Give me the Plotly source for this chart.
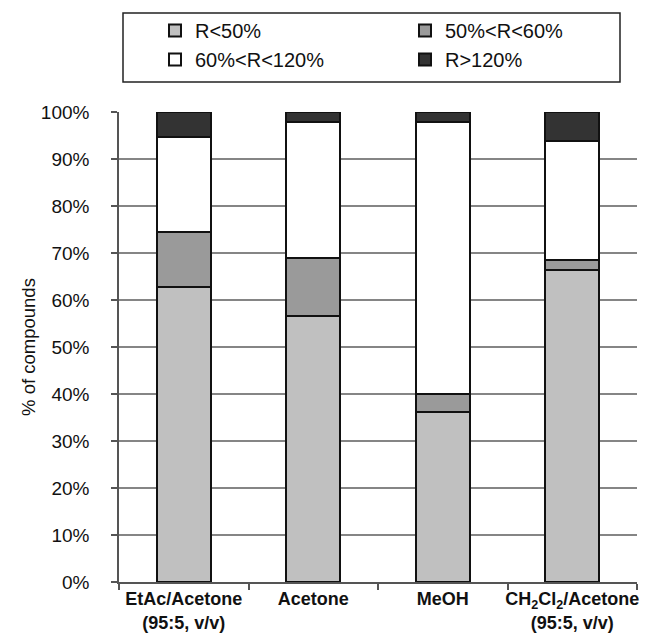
import plotly.graph_objects as go

categories = ["EtAc/Acetone<br>(95:5, v/v)", "Acetone", "MeOH",
              "CH<sub>2</sub>Cl<sub>2</sub>/Acetone<br>(95:5, v/v)"]
series_names = ["R<50%", "50%<R<60%", "60%<R<120%", "R>120%"]
r_lt50 = [62.8, 56.7, 36.2, 66.4]
r_50_60 = [11.7, 12.2, 3.8, 2.1]
r_60_120 = [20.2, 29.0, 57.9, 25.3]
r_gt120 = [5.3, 2.1, 2.1, 6.2]
series_values = [r_lt50, r_50_60, r_60_120, r_gt120]
colors = ["#c0c0c0", "#9a9a9a", "#ffffff", "#333333"]
ytick_vals = [0, 10, 20, 30, 40, 50, 60, 70, 80, 90, 100]
ytick_text = [f"{v}%" for v in ytick_vals]

W, H = 652, 638
ml, mr, mt, mb = 119, 15, 112, 56
pw, ph = W - ml - mr, H - mt - mb

def px_x(x):
    return (x - ml) / pw

def px_y(y):
    return (H - mb - y) / ph

fig = go.Figure()
for name, vals, col in zip(series_names, series_values, colors):
    fig.add_trace(go.Bar(
        x=categories, y=vals, name=name, width=0.42,
        marker=dict(color=col, line=dict(color="#111111", width=2)),
    ))

fig.update_layout(
    width=W, height=H, barmode="stack",
    margin=dict(l=ml, r=mr, t=mt, b=mb, autoexpand=False),
    paper_bgcolor="white", plot_bgcolor="white",
    font=dict(family="Liberation Sans, Arial, sans-serif", color="#111111"),
    showlegend=True,
    legend=dict(
        orientation="h", traceorder="normal",
        xref="container", yref="container",
        x=155 / W, y=1 - 11 / H, xanchor="left", yanchor="top",
        entrywidth=205, entrywidthmode="pixels",
        font=dict(size=20), bgcolor="rgba(0,0,0,0)", borderwidth=0,
    ),
    shapes=[dict(type="rect", xref="paper", yref="paper",
                 x0=px_x(123), x1=px_x(620), y0=px_y(13), y1=px_y(82),
                 line=dict(color="#222222", width=1.5))],
    xaxis=dict(
        automargin=False, tickangle=0,
        showline=True, linecolor="#555555", linewidth=1.5,
        ticks="outside", tickson="boundaries", ticklen=6,
        tickcolor="#555555", tickwidth=1.5,
        tickfont=dict(size=18, family="Liberation Sans, Arial, sans-serif"),
        showgrid=False,
        tickvals=categories,
        ticktext=["<b>" + c.replace("<br>", "</b><br><b>") + "</b>" for c in categories],
    ),
    yaxis=dict(
        automargin=False,
        range=[0, 100], tickvals=ytick_vals, ticktext=ytick_text,
        showline=True, linecolor="#555555", linewidth=1.5,
        ticks="outside", ticklen=6, tickcolor="#555555", tickwidth=1.5,
        tickfont=dict(size=19), ticklabelstandoff=18,
        showgrid=True, gridcolor="#858585", gridwidth=1.5,
        title=dict(text="% of compounds", font=dict(size=18.5), standoff=0),
        zeroline=False,
    ),
)

fig.write_html("out.html", config={"displayModeBar": False},
               post_script="document.body.style.margin='0px';")
